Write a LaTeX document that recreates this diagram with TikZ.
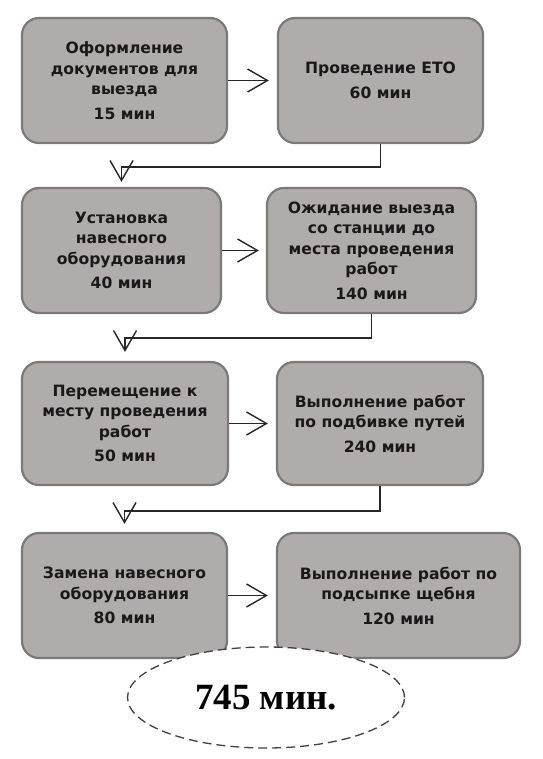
\documentclass[tikz,border=0pt]{standalone}
\usepackage{fontspec}
\setmainfont{DejaVu Sans}
\newfontfamily\totalfont{Liberation Serif}
\usetikzlibrary{arrows.meta,shapes.geometric}
\definecolor{boxfill}{RGB}{176,172,172}
\definecolor{boxline}{RGB}{122,122,122}
\begin{document}
\begin{tikzpicture}[x=1pt,y=-1pt,
  stepbox/.style={draw=boxline, fill=boxfill, line width=2.2pt, rounded corners=17pt,
    align=center, font=\fontsize{15.6}{20.5}\selectfont\bfseries, text=black!90, inner sep=0pt},
  arr/.style={draw=black!85, line width=1.4pt, -{Straight Barb[length=20pt,width=23pt]}},
  totalbox/.style={ellipse, draw=black!75, fill=white, line width=1.3pt,
    dash pattern=on 9pt off 5pt, inner sep=0pt,
    font=\totalfont\fontsize{37}{42}\selectfont\bfseries}
]
\useasboundingbox (0,0) rectangle (542,759);

\node[stepbox, minimum width=205pt, minimum height=125pt] (a) at (124.5,80.5)
  {Оформление\\документов для\\выезда\\[4pt]15 мин};
\node[stepbox, minimum width=205pt, minimum height=125pt] (b) at (380.5,80.5)
  {Проведение ЕТО\\[4pt]60 мин};
\node[stepbox, minimum width=199pt, minimum height=125pt] (c) at (121.5,250.5)
  {Установка\\навесного\\оборудования\\[4pt]40 мин};
\node[stepbox, minimum width=209pt, minimum height=125pt] (d) at (371.5,250.5)
  {Ожидание выезда\\со станции до\\места проведения\\работ\\[4pt]140 мин};
\node[stepbox, minimum width=206pt, minimum height=123pt] (e) at (125,423.5)
  {Перемещение к\\месту проведения\\работ\\[4pt]50 мин};
\node[stepbox, minimum width=206pt, minimum height=123pt] (f) at (380,423.5)
  {Выполнение работ\\по подбивке путей\\[4pt]240 мин};
\node[stepbox, minimum width=205pt, minimum height=125pt] (g) at (124.5,595.5)
  {Замена навесного\\оборудования\\[4pt]80 мин};
\node[stepbox, minimum width=243pt, minimum height=125pt] (h) at (398.5,595.5)
  {Выполнение работ по\\подсыпке щебня\\[4pt]120 мин};

\draw[arr, shorten >=8pt] (a.east) -- (b.west);
\draw[arr, shorten >=7pt] (c.east) -- (d.west);
\draw[arr, shorten >=8pt] (e.east) -- (f.west);
\draw[arr, shorten >=8pt] (g.east) -- (h.west);

\draw[arr, shorten >=5pt] (b.south) -- ++(0,23) -| (c.north);
\draw[arr, shorten >=9pt] (d.south) -- ++(0,24) -| (e.north);
\draw[arr, shorten >=8pt] (f.south) -- ++(0,25) -| (g.north);

\node[totalbox, minimum width=277pt, minimum height=101pt] (total) at (266,697.5) {745 мин.};
\end{tikzpicture}
\end{document}
